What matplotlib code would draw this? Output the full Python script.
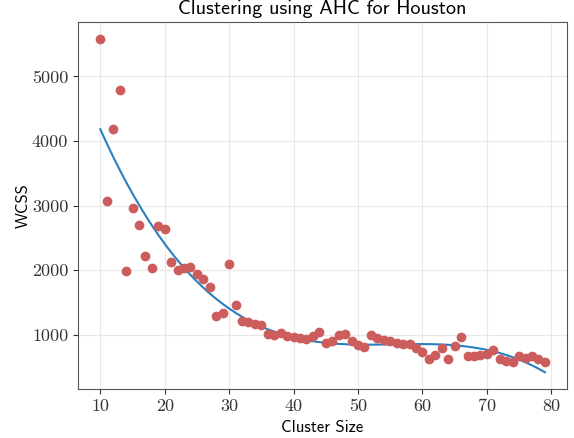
import numpy as np
import matplotlib
matplotlib.use("Agg")
import matplotlib.pyplot as plt

cluster_size = list(range(10, 80))
wcss = [5585, 3078, 4189, 4788, 1997, 2969, 2701, 2220, 2034, 2679,
        2639, 2132, 2012, 2034, 2050, 1950, 1864, 1740, 1290, 1336,
        2101, 1460, 1217, 1202, 1166, 1155, 1016, 1005, 1036, 984,
        974, 958, 933, 989, 1042, 871, 907, 1005, 1020, 912,
        845, 809, 1005, 958, 922, 912, 871, 860, 865, 794,
        741, 633, 690, 803, 633, 834, 969, 670, 679, 690,
        705, 767, 623, 597, 581, 674, 643, 670, 623, 586]

x = np.array(cluster_size)
y = np.array(wcss)
# cubic fit for the trend line
coef = np.polyfit(x, y, 3)
xs = np.linspace(x.min(), x.max(), 200)
ys = np.polyval(coef, xs)

fig = plt.figure(figsize=(5.74, 4.38), dpi=100)
ax = fig.add_axes([0.136, 0.112, 0.852, 0.838])
ax.scatter(x, y, color='#cd5c5c', s=36, zorder=3)
ax.plot(xs, ys, color='#2a7fc0', lw=1.5, zorder=2)

ax.grid(True, color='#e8e8e8', lw=0.9)
ax.set_axisbelow(True)
for s in ax.spines.values():
    s.set_color('#555555')
ax.tick_params(colors='#333333', labelsize=13)
ax.set_title('Clustering using AHC for Houston', fontsize=14.5, family='cmss10')
ax.set_xlabel('Cluster Size', fontsize=12, family='cmss10')
ax.set_ylabel('WCSS', fontsize=12, family='cmss10', labelpad=1)
ax.set_yticks([1000, 2000, 3000, 4000, 5000])
for lab in ax.get_xticklabels() + ax.get_yticklabels():
    lab.set_fontfamily('cmr10')

fig.savefig('out.png', dpi=100)
